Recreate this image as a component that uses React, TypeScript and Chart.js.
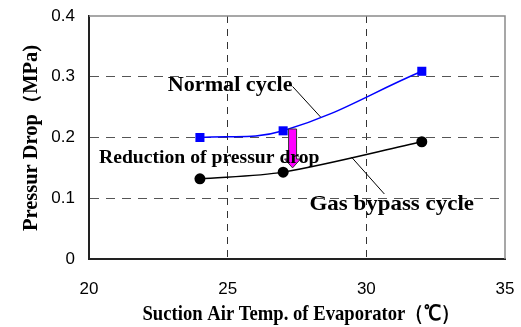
import React, { useEffect, useRef } from "react";
import { Chart, registerables } from "chart.js";

Chart.register(...registerables);

const xValues = [24, 27, 32];
const normalCycle = [0.2, 0.211, 0.309];
const gasBypass = [0.132, 0.143, 0.193];
const xTicks = [20, 25, 30, 35];
const yTicks = [0, 0.1, 0.2, 0.3, 0.4];

const xTitle = "Suction Air Temp. of Evaporator（℃）";
const yTitle = "Pressur Drop（MPa)";

function fitText(ctx: CanvasRenderingContext2D, text: string, x: number, y: number, width: number, font: string, align: "left" | "center" = "left") {
  ctx.save();
  ctx.font = font;
  ctx.textBaseline = "alphabetic";
  ctx.textAlign = "left";
  const w = ctx.measureText(text).width;
  const sx = width / w;
  const left = align === "center" ? x - width / 2 : x;
  ctx.translate(left, y);
  ctx.scale(sx, 1);
  ctx.fillStyle = "#000";
  ctx.fillText(text, 0, 0);
  ctx.restore();
}

const annotationPlugin = {
  id: "annot",
  afterDatasetsDraw(chart: any) {
    const ctx: CanvasRenderingContext2D = chart.ctx;
    const xs = chart.scales.x;
    const ys = chart.scales.y;
    const px = (v: number) => xs.getPixelForValue(v);
    const py = (v: number) => ys.getPixelForValue(v);
    const area = chart.chartArea;

    // top/right border
    ctx.save();
    ctx.strokeStyle = "#8a8a8a";
    ctx.lineWidth = 1.5;
    ctx.beginPath();
    ctx.moveTo(area.left, area.top);
    ctx.lineTo(area.right, area.top);
    ctx.lineTo(area.right, area.bottom);
    ctx.stroke();
    ctx.restore();

    // leader lines
    ctx.save();
    ctx.strokeStyle = "#000";
    ctx.lineWidth = 1;
    ctx.beginPath();
    ctx.moveTo(px(27.34), py(0.284));
    ctx.lineTo(px(28.35), py(0.2337));
    ctx.moveTo(px(29.46), py(0.168));
    ctx.lineTo(px(30.65), py(0.107));
    ctx.stroke();
    ctx.restore();

    // magenta arrow
    const ax = px(27.34);
    const aTop = py(0.214);
    const aHead = py(0.1646);
    const aTip = py(0.15);
    ctx.save();
    ctx.fillStyle = "#ff00ff";
    ctx.strokeStyle = "#333";
    ctx.lineWidth = 1;
    ctx.beginPath();
    ctx.moveTo(ax - 4, aTop);
    ctx.lineTo(ax + 4, aTop);
    ctx.lineTo(ax + 4, aHead);
    ctx.lineTo(ax + 8, aHead);
    ctx.lineTo(ax, aTip);
    ctx.lineTo(ax - 8, aHead);
    ctx.lineTo(ax - 4, aHead);
    ctx.closePath();
    ctx.fill();
    ctx.stroke();
    ctx.restore();

    // labels
    fitText(ctx, "Normal cycle", px(22.84), py(0.2766), px(27.34) - px(22.84), "bold 20px 'Liberation Serif'");
    fitText(ctx, "Reduction of pressur drop", px(20.36), py(0.158), px(28.31) - px(20.36), "bold 19px 'Liberation Serif'");
    fitText(ctx, "Gas bypass cycle", px(27.95), py(0.0807), px(33.88) - px(27.95), "bold 21px 'Liberation Serif'");

    // axis titles
    fitText(ctx, xTitle, 301, 320, 317, "bold 21px 'Liberation Serif'", "center");
    ctx.save();
    ctx.translate(37, 138);
    ctx.rotate(-Math.PI / 2);
    fitText(ctx, yTitle, 0, 0, 186, "bold 20px 'Liberation Serif'", "center");
    ctx.restore();
  },
};

export default function App() {
  const ref = useRef<HTMLCanvasElement>(null);
  useEffect(() => {
    const chart = new Chart(ref.current!, {
      type: "line",
      data: {
        datasets: [
          {
            label: "Normal cycle",
            data: xValues.map((x, i) => ({ x, y: normalCycle[i] })),
            borderColor: "#0000ff",
            backgroundColor: "#0000ff",
            borderWidth: 1.5,
            pointStyle: "rect",
            pointRadius: 6.4,
            pointBorderWidth: 0,
            tension: 0.4,
          },
          {
            label: "Gas bypass cycle",
            data: xValues.map((x, i) => ({ x, y: gasBypass[i] })),
            borderColor: "#000",
            backgroundColor: "#000",
            borderWidth: 1.5,
            pointStyle: "circle",
            pointRadius: 5.5,
            pointBorderWidth: 0,
            tension: 0.3,
          },
        ],
      },
      options: {
        animation: false,
        responsive: false,
        layout: { padding: { top: 16, right: 16, left: 0, bottom: 0 } },
        plugins: { legend: { display: false }, tooltip: { enabled: false } },
        scales: {
          x: {
            type: "linear",
            min: xTicks[0],
            max: xTicks[xTicks.length - 1],
            afterBuildTicks: (s: any) => { s.ticks = xTicks.map((v) => ({ value: v })); },
            afterFit: (s: any) => { s.height = 68; s.paddingLeft = 0; s.paddingRight = 0; },
            ticks: { font: { family: "'Liberation Sans'", size: 17 }, color: "#000", padding: 20, maxRotation: 0 },
            grid: {
              drawTicks: false,
              color: (c: any) => (c.tick && (c.tick.value === 25 || c.tick.value === 30) ? "#333" : "rgba(0,0,0,0)"),
              lineWidth: 1,
            },
            border: { display: true, color: "#222", width: 2, dash: [7, 6] },
          },
          y: {
            min: yTicks[0],
            max: yTicks[yTicks.length - 1],
            afterBuildTicks: (s: any) => { s.ticks = yTicks.map((v) => ({ value: v })); },
            afterFit: (s: any) => { s.width = 89; s.paddingTop = 0; s.paddingBottom = 0; },
            ticks: {
              font: { family: "'Liberation Sans'", size: 17 },
              color: "#000",
              padding: 14,
              callback: (v: any) => (v === 0 ? "0" : Number(v).toFixed(1)),
            },
            grid: {
              drawTicks: false,
              color: (c: any) => (c.tick && c.tick.value > 0.05 && c.tick.value < 0.35 ? "#555" : "rgba(0,0,0,0)"),
              lineWidth: 1,
            },
            border: { display: true, color: "#222", width: 2, dash: [9, 7] },
          },
        },
      } as any,
      plugins: [annotationPlugin],
    });
    return () => chart.destroy();
  }, []);
  return (
    <div style={{ position: "absolute", left: 0, top: 0, width: 521, height: 327, background: "#fff" }}>
      <canvas ref={ref} width={521} height={327} style={{ width: 521, height: 327 }} />
    </div>
  );
}
